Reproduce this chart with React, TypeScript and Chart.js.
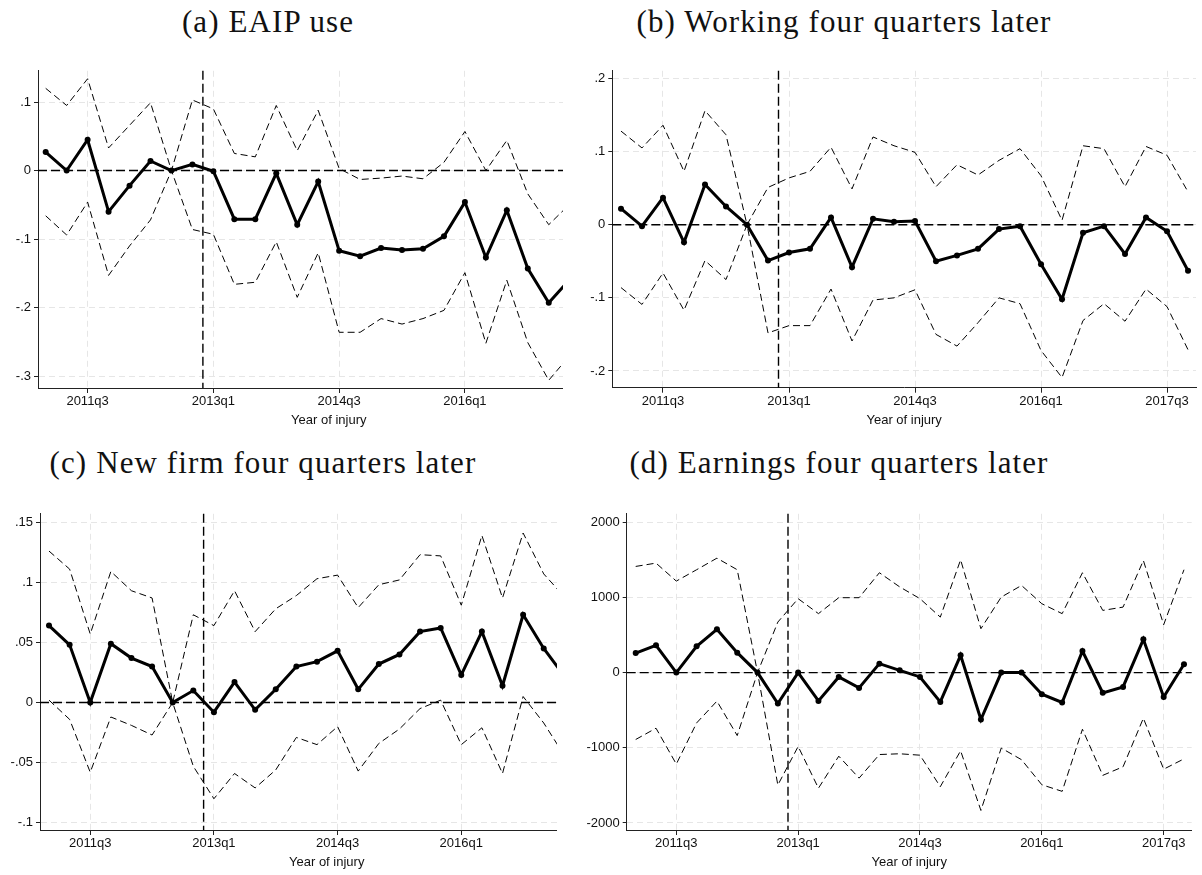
import React, { useEffect, useRef } from "react";
import { Chart, registerables } from "chart.js";

Chart.register(...registerables);

// Quarter of injury, one entry per estimated coefficient
const quarters = [
  "2011q1", "2011q2", "2011q3", "2011q4",
  "2012q1", "2012q2", "2012q3", "2012q4",
  "2013q1", "2013q2", "2013q3", "2013q4",
  "2014q1", "2014q2", "2014q3", "2014q4",
  "2015q1", "2015q2", "2015q3", "2015q4",
  "2016q1", "2016q2", "2016q3", "2016q4",
  "2017q1", "2017q2", "2017q3", "2017q4",
];
const xTickLabels = ["2011q3", "2013q1", "2014q3", "2016q1", "2017q3"];
const policyBreak = 7.5; // between 2012q4 and 2013q1

// (a) EAIP use
const eaipEst = [0.027, 0.0, 0.045, -0.06, -0.022, 0.014, 0.0, 0.009, -0.001, -0.071, -0.071, -0.004, -0.079, -0.016, -0.117, -0.125, -0.113, -0.116, -0.114, -0.096, -0.046, -0.127, -0.058, -0.143, -0.193, -0.159];
const eaipHi = [0.12, 0.095, 0.134, 0.033, 0.066, 0.099, 0.0, 0.103, 0.09, 0.025, 0.02, 0.095, 0.029, 0.088, 0.003, -0.013, -0.011, -0.008, -0.012, 0.012, 0.057, 0.0, 0.044, -0.034, -0.079, -0.049];
const eaipLo = [-0.066, -0.094, -0.046, -0.153, -0.11, -0.072, 0.0, -0.086, -0.093, -0.166, -0.163, -0.104, -0.185, -0.12, -0.236, -0.236, -0.216, -0.224, -0.216, -0.204, -0.149, -0.252, -0.16, -0.251, -0.306, -0.27];
const eaipTicks = [-0.3, -0.2, -0.1, 0, 0.1];

// (b) Working four quarters later
const workEst = [0.022, -0.002, 0.037, -0.024, 0.055, 0.025, 0.0, -0.049, -0.038, -0.033, 0.01, -0.058, 0.008, 0.004, 0.005, -0.05, -0.042, -0.033, -0.006, -0.002, -0.054, -0.102, -0.011, -0.002, -0.04, 0.01, -0.009, -0.063];
const workHi = [0.128, 0.105, 0.136, 0.073, 0.156, 0.123, 0.0, 0.051, 0.064, 0.073, 0.106, 0.049, 0.12, 0.108, 0.099, 0.052, 0.082, 0.068, 0.088, 0.104, 0.067, 0.006, 0.108, 0.104, 0.052, 0.107, 0.095, 0.045];
const workLo = [-0.086, -0.109, -0.066, -0.117, -0.049, -0.075, 0.0, -0.148, -0.138, -0.138, -0.088, -0.159, -0.103, -0.1, -0.089, -0.15, -0.166, -0.134, -0.1, -0.108, -0.172, -0.209, -0.131, -0.108, -0.132, -0.088, -0.112, -0.171];
const workTicks = [-0.2, -0.1, 0, 0.1, 0.2];

// (c) New firm four quarters later
const firmEst = [0.064, 0.048, 0.0, 0.049, 0.037, 0.03, 0.0, 0.01, -0.008, 0.017, -0.006, 0.011, 0.03, 0.034, 0.043, 0.011, 0.032, 0.04, 0.059, 0.062, 0.023, 0.059, 0.014, 0.073, 0.045, 0.022];
const firmHi = [0.126, 0.111, 0.057, 0.109, 0.093, 0.087, 0.0, 0.073, 0.064, 0.093, 0.059, 0.078, 0.089, 0.103, 0.106, 0.079, 0.098, 0.102, 0.123, 0.122, 0.081, 0.139, 0.087, 0.141, 0.107, 0.088];
const firmLo = [0.002, -0.014, -0.058, -0.012, -0.019, -0.027, 0.0, -0.053, -0.08, -0.059, -0.071, -0.056, -0.029, -0.035, -0.02, -0.057, -0.034, -0.022, -0.005, 0.002, -0.035, -0.021, -0.059, 0.005, -0.017, -0.044];
const firmTicks = [-0.1, -0.05, 0, 0.05, 0.1, 0.15];

// (d) Earnings four quarters later
const earnEst = [260, 362, 0, 349, 575, 265, 0, -412, 0, -377, -58, -204, 119, 30, -58, -390, 230, -625, 0, 0, -288, -398, 287, -270, -191, 442, -324, 110];
const earnHi = [1412, 1456, 1217, 1368, 1522, 1368, 0, 672, 983, 784, 996, 996, 1328, 1140, 983, 738, 1500, 584, 1004, 1159, 916, 784, 1328, 827, 871, 1491, 637, 1368];
const earnLo = [-890, -740, -1217, -670, -380, -838, 0, -1496, -983, -1538, -1112, -1404, -1090, -1080, -1099, -1518, -1040, -1834, -1004, -1159, -1492, -1580, -754, -1367, -1253, -607, -1285, -1148];
const earnTicks = [-2000, -1000, 0, 1000, 2000];

const SANS = "'Liberation Sans', Arial, Helvetica, sans-serif";
const SERIF = "'Liberation Serif', 'Times New Roman', serif";
const INK = "#111111";

type Box = { left: number; top: number; w: number; h: number; viewW: number };
type Spec = {
  caption: string;
  captionX: number;
  captionY: number;
  box: Box;
  est: number[];
  hi: number[];
  lo: number[];
  yTicks: number[];
  yMin: number;
  yMax: number;
  xMin: number;
  xMax: number;
  yAxisW: number;
  xAxisH: number;
  padTop: number;
  padRight: number;
  titlePad: number;
};

const stataLabel = (v: number) => {
  if (Math.abs(v) < 1e-12) return "0";
  const s = String(+v.toFixed(6));
  return s.replace(/^(-?)0\./, "$1.");
};

const toPoints = (arr: number[]) => arr.map((v, i) => ({ x: i, y: v }));

// zero line and the vertical break line, placed through the chart's scales
const referenceLines = {
  id: "referenceLines",
  beforeDatasetsDraw(chart: any) {
    const { ctx, chartArea, scales } = chart;
    const y0 = scales.y.getPixelForValue(0);
    const xb = scales.x.getPixelForValue(policyBreak);
    ctx.save();
    ctx.strokeStyle = "#000";
    ctx.lineWidth = 1.4;
    ctx.setLineDash([9, 4]);
    ctx.beginPath();
    ctx.moveTo(chartArea.left, y0);
    ctx.lineTo(chartArea.right, y0);
    ctx.stroke();
    ctx.beginPath();
    ctx.moveTo(xb, chartArea.top);
    ctx.lineTo(xb, chartArea.bottom);
    ctx.stroke();
    ctx.restore();
  },
};

function buildConfig(s: Spec): any {
  const ciStyle = {
    borderColor: "#000",
    borderWidth: 1,
    borderDash: [7, 4],
    pointRadius: 0,
    fill: false,
    tension: 0,
    clip: 0,
  };
  return {
    type: "line",
    data: {
      datasets: [
        {
          data: toPoints(s.est),
          borderColor: "#000",
          borderWidth: 3,
          pointRadius: 3,
          pointBackgroundColor: "#000",
          pointBorderWidth: 0,
          fill: false,
          tension: 0,
          clip: 0,
        },
        { data: toPoints(s.hi), ...ciStyle },
        { data: toPoints(s.lo), ...ciStyle },
      ],
    },
    options: {
      animation: false,
      responsive: false,
      maintainAspectRatio: false,
      devicePixelRatio: 1,
      events: [],
      layout: { padding: { left: 0, top: s.padTop, right: s.padRight, bottom: 0 } },
      plugins: { legend: { display: false }, tooltip: { enabled: false }, title: { display: false } },
      scales: {
        x: {
          type: "linear",
          min: s.xMin,
          max: s.xMax,
          afterBuildTicks: (scale: any) => {
            scale.ticks = xTickLabels
              .map((q) => ({ value: quarters.indexOf(q) }))
              .filter((t) => t.value >= scale.min && t.value <= scale.max);
          },
          afterFit: (scale: any) => {
            scale.height = s.xAxisH;
          },
          ticks: {
            callback: (v: any) => quarters[Math.round(Number(v))] ?? "",
            font: { family: SANS, size: 13 },
            color: INK,
            padding: 1,
            maxRotation: 0,
            autoSkip: false,
          },
          grid: { color: "#e6e6e6", lineWidth: 1, tickLength: 5, tickColor: "#222", tickWidth: 1 },
          border: { display: true, color: "#222", width: 1, dash: [6, 4] },
          title: {
            display: true,
            text: "Year of injury",
            font: { family: SANS, size: 13 },
            color: INK,
            padding: { top: 0, bottom: s.titlePad },
          },
        },
        y: {
          type: "linear",
          min: s.yMin,
          max: s.yMax,
          afterBuildTicks: (scale: any) => {
            scale.ticks = s.yTicks.map((v) => ({ value: v }));
          },
          afterFit: (scale: any) => {
            scale.width = s.yAxisW;
          },
          ticks: {
            callback: (v: any) => stataLabel(Number(v)),
            font: { family: SANS, size: 13 },
            color: INK,
            padding: 3,
            autoSkip: false,
          },
          grid: { color: "#e6e6e6", lineWidth: 1, tickLength: 4, tickColor: "#222", tickWidth: 1 },
          border: { display: true, color: "#222", width: 1, dash: [6, 4] },
        },
      },
    },
    plugins: [referenceLines],
  };
}

function Panel({ spec }: { spec: Spec }) {
  const ref = useRef<HTMLCanvasElement>(null);
  useEffect(() => {
    if (!ref.current) return;
    const chart = new Chart(ref.current, buildConfig(spec));
    return () => chart.destroy();
  }, [spec]);
  const b = spec.box;
  return (
    <>
      <div
        style={{
          position: "absolute",
          left: b.left,
          top: b.top,
          width: b.viewW,
          height: b.h,
          overflow: "hidden",
        }}
      >
        <canvas ref={ref} width={b.w} height={b.h} style={{ display: "block", width: b.w, height: b.h }} />
      </div>
      <div
        style={{
          position: "absolute",
          left: spec.captionX,
          top: spec.captionY,
          transform: "translateX(-50%)",
          whiteSpace: "nowrap",
          fontFamily: SERIF,
          fontSize: 31,
          lineHeight: "31px",
          letterSpacing: "1.1px",
          color: "#111",
        }}
      >
        {spec.caption}
      </div>
    </>
  );
}

const panels: Spec[] = [
  {
    caption: "(a) EAIP use",
    captionX: 268,
    captionY: 6,
    box: { left: 0, top: 60, w: 640, h: 380, viewW: 563 },
    est: eaipEst,
    hi: eaipHi,
    lo: eaipLo,
    yTicks: eaipTicks,
    yMin: -0.3173,
    yMax: 0.1456,
    xMin: -0.367,
    xMax: 27.38,
    yAxisW: 38,
    xAxisH: 52,
    padTop: 10,
    padRight: 20.4,
    titlePad: 11.5,
  },
  {
    caption: "(b) Working four quarters later",
    captionX: 844,
    captionY: 6,
    box: { left: 570, top: 60, w: 632, h: 380, viewW: 632 },
    est: workEst,
    hi: workHi,
    lo: workLo,
    yTicks: workTicks,
    yMin: -0.2229,
    yMax: 0.2105,
    xMin: -0.414,
    xMax: 27.38,
    yAxisW: 42.3,
    xAxisH: 52.3,
    padTop: 10,
    padRight: 6,
    titlePad: 11.5,
  },
  {
    caption: "(c) New firm four quarters later",
    captionX: 263,
    captionY: 447,
    box: { left: 0, top: 503, w: 640, h: 372, viewW: 557 },
    est: firmEst,
    hi: firmHi,
    lo: firmLo,
    yTicks: firmTicks,
    yMin: -0.106,
    yMax: 0.157,
    xMin: -0.437,
    xMax: 27.38,
    yAxisW: 40,
    xAxisH: 45,
    padTop: 10.3,
    padRight: 26.6,
    titlePad: 4.5,
  },
  {
    caption: "(d) Earnings four quarters later",
    captionX: 839,
    captionY: 447,
    box: { left: 570, top: 503, w: 632, h: 372, viewW: 632 },
    est: earnEst,
    hi: earnHi,
    lo: earnLo,
    yTicks: earnTicks,
    yMin: -2094,
    yMax: 2112,
    xMin: -0.443,
    xMax: 27.38,
    yAxisW: 56.7,
    xAxisH: 45,
    padTop: 10.3,
    padRight: 10.3,
    titlePad: 4.5,
  },
];

export default function App() {
  return (
    <div
      style={{
        position: "fixed",
        left: 0,
        top: 0,
        width: 1202,
        height: 875,
        overflow: "hidden",
        background: "#fff",
      }}
    >
      {panels.map((p) => (
        <Panel key={p.caption} spec={p} />
      ))}
    </div>
  );
}
